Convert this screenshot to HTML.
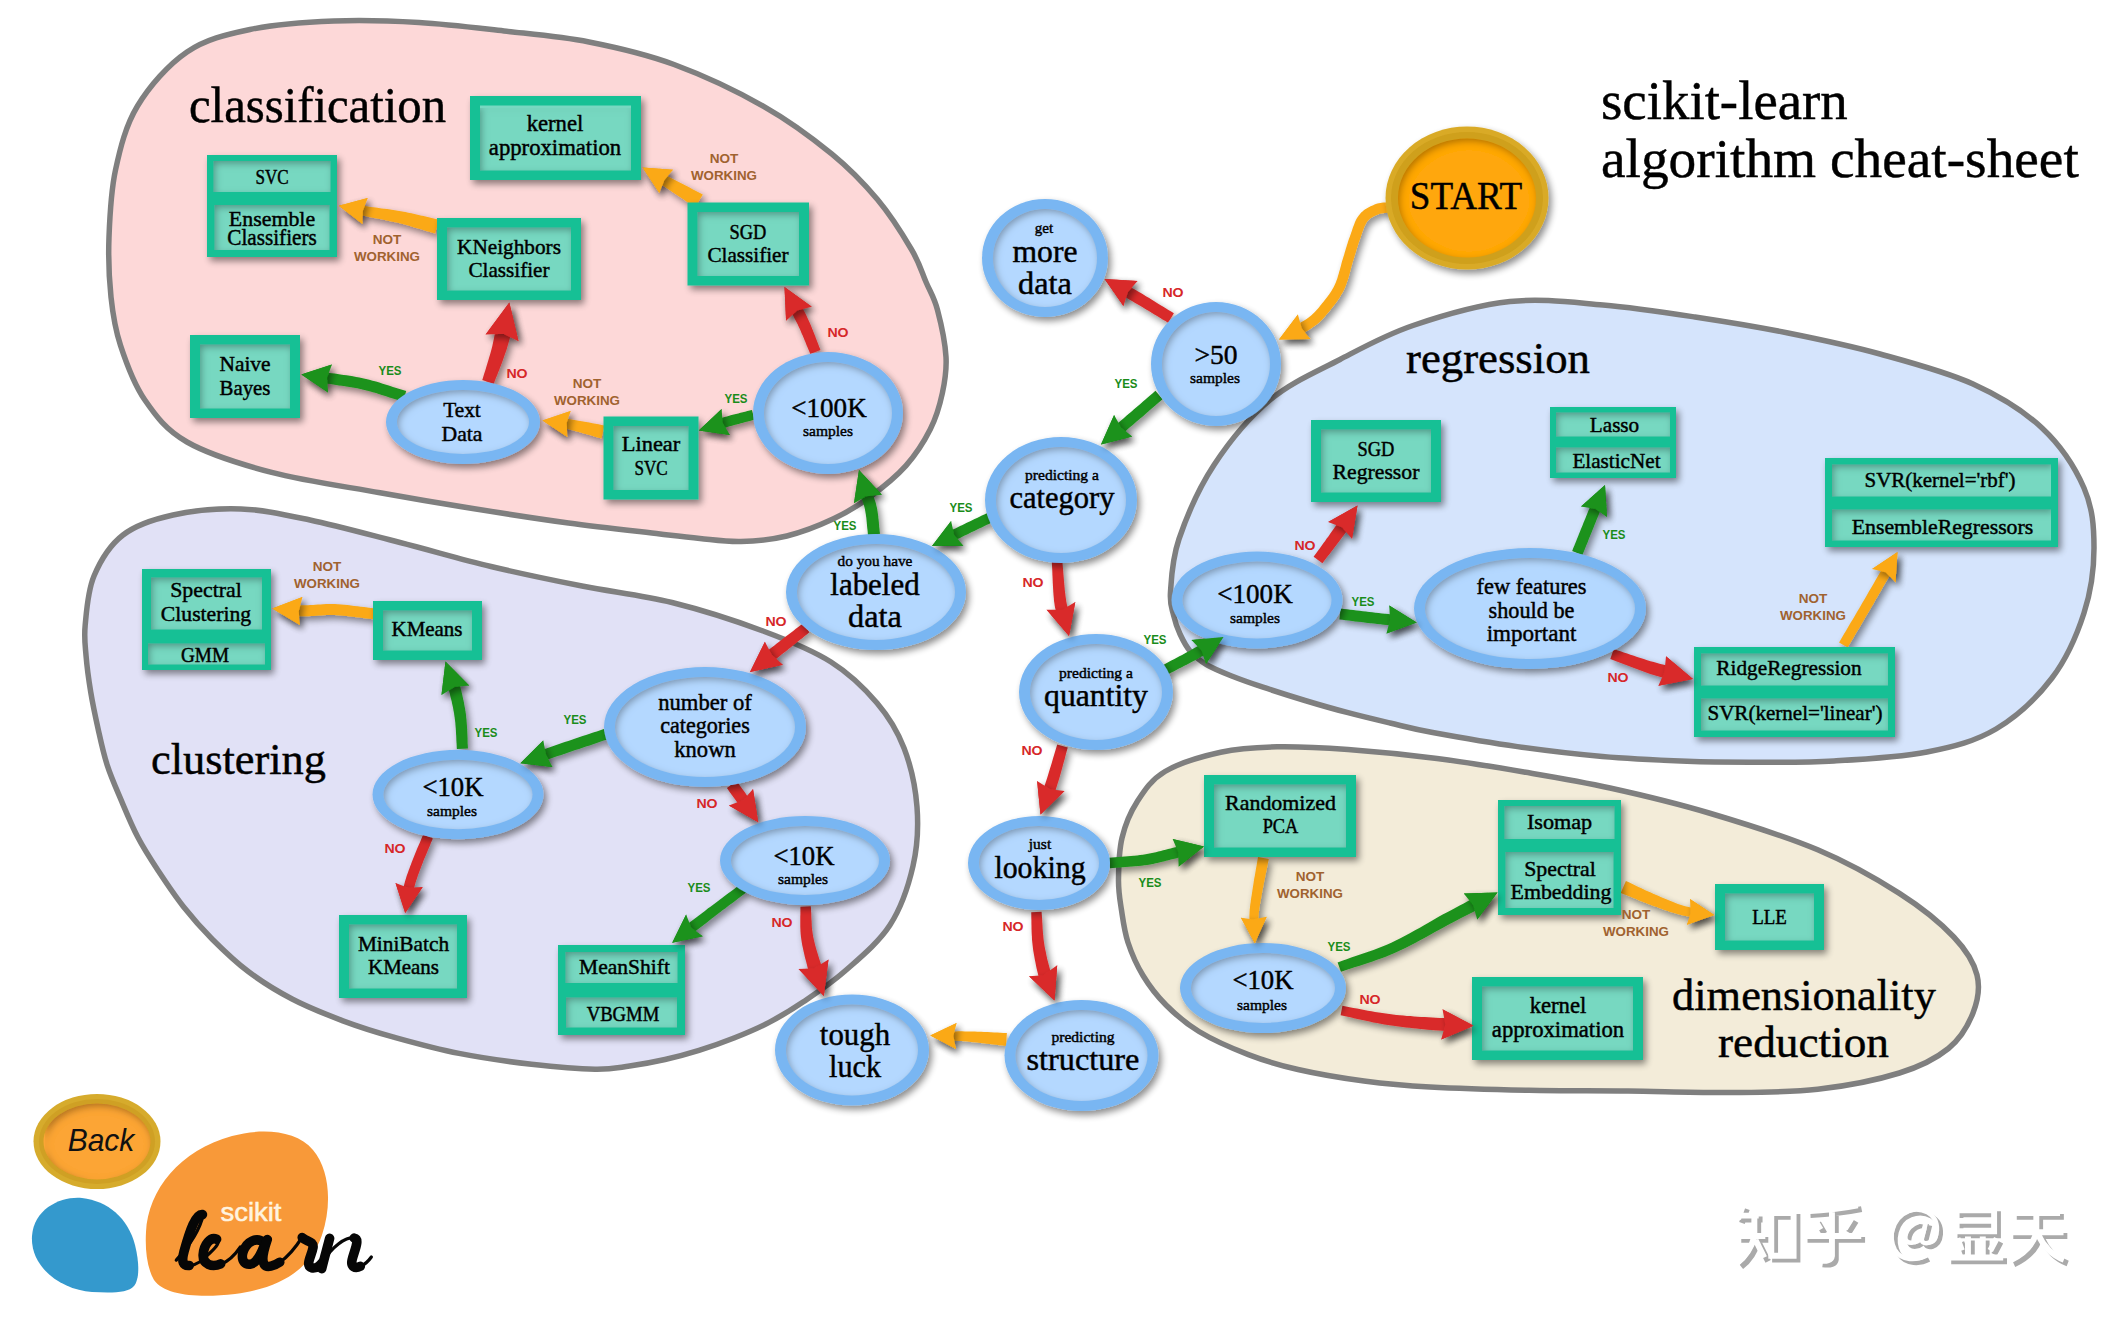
<!DOCTYPE html><html><head><meta charset="utf-8"><title>scikit-learn algorithm cheat-sheet</title>
<style>html,body{margin:0;padding:0;background:#fff}svg{display:block}text{font-family:"Liberation Serif", serif}.s{font-family:"Liberation Sans", sans-serif;font-weight:bold}.sn{font-family:"Liberation Sans", sans-serif}</style></head><body>
<svg width="2122" height="1323" viewBox="0 0 2122 1323">
<defs>
<filter id="ds" x="-5%" y="-5%" width="110%" height="110%"><feGaussianBlur in="SourceAlpha" stdDeviation="3.5"/><feOffset dx="2.5" dy="3.5"/><feComponentTransfer><feFuncA type="linear" slope="0.45"/></feComponentTransfer><feMerge><feMergeNode/><feMergeNode in="SourceGraphic"/></feMerge></filter>
<filter id="is" x="0" y="0" width="100%" height="100%"><feComponentTransfer in="SourceAlpha"><feFuncA type="table" tableValues="1 0"/></feComponentTransfer><feGaussianBlur stdDeviation="3.5"/><feOffset dx="2" dy="3" result="sh"/><feFlood flood-color="#000" flood-opacity="0.55"/><feComposite in2="sh" operator="in"/><feComposite in2="SourceAlpha" operator="in" result="inn"/><feMerge><feMergeNode in="SourceGraphic"/><feMergeNode in="inn"/></feMerge></filter>
</defs>
<rect width="2122" height="1323" fill="#fff"/>
<g stroke="#7f7f7f" stroke-width="5.5">
<path d="M109.0 237.0 C109.8 215.8 110.8 191.8 115.5 170.0 C120.2 148.2 125.6 125.7 137.5 106.0 C149.4 86.3 168.2 64.8 187.0 52.0 C205.8 39.2 225.5 34.7 250.0 29.5 C274.5 24.3 305.8 22.2 334.0 21.0 C362.2 19.8 390.7 20.8 419.0 22.5 C447.3 24.2 475.7 27.8 504.0 31.0 C532.3 34.2 560.7 36.4 589.0 42.0 C617.3 47.6 644.8 53.7 674.0 64.5 C703.2 75.3 737.7 91.6 764.0 106.6 C790.3 121.5 813.1 138.7 832.0 154.2 C850.9 169.7 864.2 183.7 877.5 199.6 C890.8 215.5 903.4 235.8 911.5 249.5 C919.6 263.2 921.7 271.9 926.0 282.0 C930.3 292.1 934.2 297.5 937.5 310.0 C940.8 322.5 945.2 343.2 946.0 357.0 C946.8 370.8 945.0 380.9 942.4 393.0 C939.8 405.1 936.4 417.2 930.3 429.3 C924.2 441.4 916.1 454.3 906.0 465.6 C895.9 476.9 881.9 488.1 869.8 497.0 C857.7 505.9 847.3 512.3 833.5 518.8 C819.7 525.3 802.2 532.2 786.8 536.0 C771.4 539.8 755.5 541.1 741.0 541.5 C726.5 541.9 713.5 539.8 700.0 538.5 C686.5 537.2 681.9 536.6 660.0 534.0 C638.1 531.4 599.5 527.2 568.5 523.0 C537.5 518.8 505.7 513.8 474.3 508.8 C442.9 503.8 413.8 498.9 380.0 492.8 C346.2 486.7 303.9 480.9 271.7 472.4 C239.5 463.9 208.2 454.1 187.0 442.0 C165.8 429.9 155.8 415.9 144.7 399.8 C133.6 383.7 126.1 362.5 120.5 345.4 C114.9 328.3 112.9 315.1 111.0 297.0 C109.1 278.9 108.2 258.2 109.0 237.0Z" fill="#fdd8d8"/>
<path d="M85.2 625.0 C86.5 611.6 87.7 591.0 94.0 576.0 C100.3 561.0 109.8 545.2 123.0 535.0 C136.2 524.8 153.3 519.3 173.0 515.0 C192.7 510.7 218.2 508.2 241.0 509.0 C263.8 509.8 283.5 514.4 310.0 520.0 C336.5 525.6 369.8 534.8 400.0 542.5 C430.2 550.2 460.7 559.2 491.0 566.5 C521.3 573.8 551.8 580.0 582.0 586.0 C612.2 592.0 641.8 595.0 672.0 602.5 C702.2 610.0 736.5 621.1 763.0 631.0 C789.5 640.9 812.0 650.0 831.0 662.0 C850.0 674.0 864.8 688.7 877.0 703.0 C889.2 717.3 897.3 730.7 904.0 748.0 C910.7 765.3 915.5 787.3 917.0 807.0 C918.5 826.7 917.5 846.3 913.0 866.0 C908.5 885.7 901.3 907.5 890.0 925.0 C878.7 942.5 859.5 958.2 845.0 971.0 C830.5 983.8 815.7 993.4 803.0 1002.0 C790.3 1010.6 780.2 1016.6 768.7 1022.6 C757.2 1028.6 745.6 1033.4 734.0 1038.0 C722.4 1042.6 710.5 1046.8 699.0 1050.4 C687.5 1054.0 676.6 1056.9 665.0 1059.5 C653.4 1062.1 641.3 1064.4 629.6 1066.0 C617.9 1067.6 611.4 1069.6 595.0 1069.3 C578.6 1069.0 554.2 1066.9 531.5 1064.3 C508.8 1061.7 482.0 1057.9 459.0 1053.4 C436.0 1048.9 413.1 1042.5 393.7 1037.1 C374.3 1031.7 359.8 1027.1 342.9 1020.8 C326.0 1014.4 307.8 1007.2 292.1 999.0 C276.4 990.8 261.9 981.8 248.6 971.8 C235.3 961.8 223.2 950.1 212.3 939.2 C201.4 928.3 192.4 918.0 183.3 906.5 C174.2 895.0 165.5 881.8 157.9 870.3 C150.3 858.8 144.0 849.1 138.0 837.6 C132.0 826.1 126.8 813.5 121.7 801.4 C116.6 789.3 111.1 777.2 107.2 765.1 C103.3 753.0 100.8 740.9 98.1 728.8 C95.4 716.7 92.8 704.6 90.8 692.5 C88.8 680.4 87.0 667.5 86.1 656.3 C85.2 645.0 83.9 638.4 85.2 625.0Z" fill="#e1e1f6"/>
<path d="M1170.5 592.0 C1171.4 579.3 1171.8 560.2 1179.0 539.0 C1186.2 517.8 1198.8 488.2 1214.0 465.0 C1229.2 441.8 1249.0 417.6 1270.0 400.0 C1291.0 382.4 1316.2 371.9 1340.0 359.5 C1363.8 347.1 1384.7 335.2 1413.0 325.5 C1441.3 315.8 1478.3 304.9 1510.0 301.5 C1541.7 298.1 1572.2 302.4 1603.0 305.0 C1633.8 307.6 1664.2 312.3 1695.0 317.0 C1725.8 321.7 1757.2 326.8 1788.0 333.0 C1818.8 339.2 1849.2 345.5 1880.0 354.0 C1910.8 362.5 1946.0 371.7 1973.0 384.0 C2000.0 396.3 2023.5 410.7 2042.0 428.0 C2060.5 445.3 2075.3 468.0 2084.0 488.0 C2092.7 508.0 2094.0 527.2 2094.0 548.0 C2094.0 568.8 2091.0 591.3 2084.0 613.0 C2077.0 634.7 2066.7 658.7 2052.0 678.0 C2037.3 697.3 2016.8 716.7 1996.0 729.0 C1975.2 741.3 1954.0 746.7 1927.0 752.0 C1900.0 757.3 1863.5 759.3 1834.0 761.0 C1804.5 762.7 1774.5 762.2 1750.0 762.2 C1725.5 762.2 1711.6 762.2 1687.0 761.3 C1662.4 760.3 1630.7 759.0 1602.4 756.5 C1574.2 754.0 1545.8 750.6 1517.5 746.6 C1489.2 742.6 1454.0 736.4 1432.7 732.5 C1411.5 728.6 1404.1 726.3 1390.0 723.0 C1375.9 719.7 1362.2 716.5 1348.0 712.7 C1333.8 709.0 1319.2 704.8 1305.0 700.5 C1290.8 696.2 1275.0 691.2 1263.0 687.2 C1251.0 683.2 1242.4 680.3 1233.0 676.5 C1223.6 672.7 1213.7 668.9 1206.5 664.6 C1199.3 660.4 1194.4 656.1 1190.0 651.0 C1185.6 645.9 1182.8 640.0 1180.0 634.0 C1177.2 628.0 1175.1 622.0 1173.5 615.0 C1171.9 608.0 1169.6 604.7 1170.5 592.0Z" fill="#d5e4fc"/>
<path d="M1118.5 880.0 C1118.6 868.1 1118.9 851.0 1122.0 838.0 C1125.1 825.0 1129.8 813.1 1137.0 802.0 C1144.2 790.9 1151.0 779.8 1165.0 771.5 C1179.0 763.2 1202.0 756.3 1220.7 752.2 C1239.4 748.1 1255.8 747.2 1277.0 746.8 C1298.2 746.4 1321.3 747.6 1348.0 749.6 C1374.7 751.6 1407.7 754.8 1437.0 758.5 C1466.3 762.2 1495.2 767.1 1524.0 772.0 C1552.8 776.9 1579.2 781.2 1610.0 788.0 C1640.8 794.8 1674.4 802.7 1709.0 813.0 C1743.6 823.3 1786.0 836.4 1817.7 849.8 C1849.4 863.2 1876.7 878.9 1899.4 893.4 C1922.1 907.9 1940.9 923.4 1953.8 937.0 C1966.7 950.6 1973.8 962.3 1977.0 975.0 C1980.2 987.7 1977.8 1000.8 1973.0 1013.0 C1968.2 1025.2 1960.7 1038.5 1948.4 1048.5 C1936.1 1058.5 1921.2 1066.2 1899.4 1073.0 C1877.6 1079.8 1846.4 1086.0 1817.7 1089.3 C1789.0 1092.5 1758.6 1092.2 1727.0 1092.5 C1695.4 1092.8 1661.0 1091.4 1628.0 1091.0 C1595.0 1090.6 1562.0 1091.0 1529.0 1090.3 C1496.0 1089.6 1457.5 1088.5 1430.0 1087.0 C1402.5 1085.5 1386.0 1083.9 1364.0 1081.0 C1342.0 1078.1 1317.3 1073.9 1298.0 1069.5 C1278.7 1065.1 1264.9 1060.9 1248.4 1054.6 C1231.9 1048.3 1212.7 1039.8 1199.0 1031.5 C1185.3 1023.2 1175.3 1014.3 1166.0 1005.0 C1156.7 995.7 1149.3 985.9 1143.0 975.5 C1136.7 965.1 1131.6 953.5 1128.0 942.5 C1124.4 931.5 1123.0 919.9 1121.4 909.5 C1119.8 899.1 1118.4 891.9 1118.5 880.0Z" fill="#f3ecd9"/>
</g>
<g filter="url(#ds)" stroke-linejoin="round">
<path d="M1391.8 212.2 L1390.5 212.4 L1389.2 212.6 L1387.9 212.7 L1386.6 212.8 L1385.4 212.9 L1384.2 213.1 L1383.1 213.2 L1382.1 213.4 L1381.1 213.5 L1380.1 213.8 L1379.2 214.0 L1378.3 214.4 L1377.3 214.8 L1376.2 215.3 L1375.1 215.8 L1374.0 216.3 L1373.0 216.8 L1372.0 217.4 L1371.1 218.0 L1370.2 218.6 L1369.4 219.3 L1368.6 220.0 L1367.9 220.8 L1367.2 221.6 L1366.6 222.6 L1365.9 223.7 L1365.3 224.9 L1364.6 226.3 L1364.0 227.8 L1363.4 229.4 L1362.8 231.1 L1362.2 232.8 L1361.6 234.6 L1361.0 236.4 L1360.4 238.2 L1359.7 240.0 L1359.1 241.6 L1358.6 243.3 L1358.0 245.0 L1357.5 246.7 L1357.0 248.4 L1356.4 250.1 L1355.9 251.9 L1355.3 253.7 L1354.8 255.5 L1354.2 257.4 L1353.6 259.4 L1353.0 261.3 L1352.4 263.3 L1351.8 265.4 L1351.2 267.6 L1350.6 269.9 L1350.0 272.2 L1349.4 274.6 L1348.7 277.0 L1348.0 279.4 L1347.2 281.8 L1346.4 284.1 L1345.5 286.4 L1344.6 288.6 L1343.6 290.7 L1342.5 292.7 L1341.4 294.6 L1340.3 296.4 L1339.2 298.3 L1338.0 300.0 L1336.8 301.7 L1335.6 303.4 L1334.3 305.0 L1333.1 306.6 L1331.8 308.2 L1330.6 309.7 L1329.4 311.2 L1328.2 312.7 L1327.0 314.1 L1325.7 315.6 L1324.5 317.1 L1323.1 318.5 L1321.7 320.0 L1320.2 321.4 L1318.6 322.9 L1316.8 324.4 L1314.9 325.8 L1312.9 327.3 L1310.7 328.8 L1308.3 330.3 L1305.8 331.7 L1303.1 333.2 L1310.4 339.0 L1279.0 339.6 L1297.9 314.5 L1298.2 323.9 L1300.6 322.6 L1302.9 321.3 L1305.0 320.0 L1306.9 318.7 L1308.6 317.4 L1310.2 316.2 L1311.7 315.0 L1313.0 313.8 L1314.3 312.5 L1315.5 311.3 L1316.6 310.1 L1317.8 308.8 L1318.9 307.4 L1320.0 306.0 L1321.2 304.6 L1322.4 303.1 L1323.7 301.6 L1324.8 300.1 L1326.0 298.6 L1327.2 297.1 L1328.3 295.6 L1329.4 294.0 L1330.4 292.5 L1331.4 290.9 L1332.4 289.3 L1333.3 287.7 L1334.2 286.0 L1335.0 284.2 L1335.8 282.4 L1336.5 280.5 L1337.3 278.4 L1337.9 276.3 L1338.6 274.1 L1339.2 271.8 L1339.9 269.5 L1340.5 267.2 L1341.1 264.9 L1341.7 262.6 L1342.3 260.4 L1343.0 258.3 L1343.6 256.3 L1344.2 254.4 L1344.7 252.5 L1345.3 250.7 L1345.8 248.8 L1346.4 247.0 L1346.9 245.3 L1347.5 243.5 L1348.0 241.7 L1348.6 240.0 L1349.2 238.2 L1349.9 236.4 L1350.5 234.7 L1351.1 233.0 L1351.7 231.2 L1352.3 229.4 L1352.9 227.6 L1353.6 225.7 L1354.3 223.9 L1355.0 222.1 L1355.8 220.3 L1356.7 218.6 L1357.7 216.9 L1358.8 215.4 L1360.0 213.9 L1361.2 212.6 L1362.5 211.4 L1363.8 210.3 L1365.2 209.3 L1366.6 208.4 L1367.9 207.7 L1369.3 206.9 L1370.6 206.3 L1371.9 205.7 L1373.2 205.2 L1374.5 204.6 L1375.9 204.1 L1377.4 203.6 L1378.9 203.3 L1380.3 203.0 L1381.7 202.8 L1383.0 202.6 L1384.3 202.5 L1385.6 202.4 L1386.8 202.2 L1387.9 202.1 L1389.1 202.0 L1390.2 201.8Z" fill="#fba916"/>
<path d="M1168.1 322.7 L1165.4 321.0 L1162.6 319.4 L1159.9 317.7 L1157.1 316.0 L1154.4 314.4 L1151.6 312.7 L1148.9 311.1 L1146.1 309.4 L1143.4 307.8 L1140.6 306.1 L1137.9 304.5 L1135.1 302.9 L1132.4 301.3 L1129.6 299.7 L1126.8 298.1 L1124.1 296.6 L1123.4 306.1 L1104.6 279.0 L1137.5 281.1 L1129.7 286.6 L1132.5 288.2 L1135.3 289.8 L1138.1 291.5 L1140.9 293.1 L1143.7 294.8 L1146.4 296.4 L1149.2 298.1 L1151.9 299.8 L1154.7 301.5 L1157.4 303.2 L1160.2 304.9 L1162.9 306.6 L1165.7 308.2 L1168.4 309.9 L1171.1 311.6 L1173.9 313.3Z" fill="#d92b2b"/>
<path d="M1162.6 399.2 L1160.2 401.2 L1157.8 403.3 L1155.3 405.4 L1152.9 407.5 L1150.5 409.6 L1148.1 411.7 L1145.7 413.8 L1143.3 415.9 L1140.8 418.0 L1138.4 420.0 L1136.0 422.1 L1133.6 424.2 L1131.1 426.2 L1128.7 428.3 L1126.3 430.4 L1123.9 432.4 L1132.2 436.6 L1101.0 444.5 L1114.1 415.1 L1116.8 424.0 L1119.2 422.0 L1121.6 419.9 L1124.0 417.9 L1126.4 415.8 L1128.8 413.8 L1131.3 411.7 L1133.7 409.6 L1136.1 407.5 L1138.5 405.5 L1140.9 403.4 L1143.3 401.3 L1145.7 399.2 L1148.2 397.1 L1150.6 395.0 L1153.0 392.9 L1155.4 390.8Z" fill="#1b921b"/>
<path d="M991.3 522.7 L988.9 523.9 L986.4 525.1 L984.0 526.2 L981.6 527.4 L979.1 528.6 L976.7 529.7 L974.3 530.9 L971.9 532.1 L969.5 533.2 L967.1 534.4 L964.7 535.6 L962.3 536.7 L960.0 537.9 L957.6 539.0 L955.3 540.2 L963.4 545.7 L932.0 546.0 L951.1 521.0 L950.6 530.8 L952.9 529.6 L955.3 528.5 L957.7 527.3 L960.1 526.1 L962.5 524.9 L964.9 523.8 L967.3 522.6 L969.7 521.4 L972.2 520.3 L974.6 519.1 L977.0 517.9 L979.5 516.8 L981.9 515.6 L984.3 514.4 L986.7 513.3Z" fill="#1b921b"/>
<path d="M1062.2 559.6 L1062.5 563.0 L1062.8 566.5 L1063.1 570.1 L1063.4 573.7 L1063.7 577.3 L1064.0 580.9 L1064.3 584.4 L1064.6 587.7 L1064.9 590.9 L1065.3 593.9 L1065.6 596.7 L1066.0 599.2 L1066.3 601.4 L1066.7 603.4 L1067.1 605.2 L1067.6 606.8 L1068.0 608.3 L1068.4 609.7 L1075.3 602.1 L1069.0 636.0 L1046.6 609.8 L1056.5 613.3 L1056.0 611.6 L1055.6 609.8 L1055.1 607.8 L1054.7 605.7 L1054.4 603.3 L1054.0 600.8 L1053.8 598.0 L1053.5 595.1 L1053.3 591.9 L1053.1 588.6 L1052.9 585.1 L1052.7 581.6 L1052.6 578.0 L1052.4 574.4 L1052.3 570.8 L1052.1 567.2 L1051.9 563.8 L1051.8 560.4Z" fill="#d92b2b"/>
<path d="M1160.5 666.4 L1163.2 664.9 L1165.9 663.5 L1168.6 662.1 L1171.3 660.6 L1174.0 659.2 L1176.7 657.8 L1179.4 656.3 L1182.1 654.9 L1184.7 653.5 L1187.3 652.1 L1189.8 650.7 L1192.3 649.3 L1194.8 647.8 L1197.2 646.4 L1199.6 645.0 L1191.5 639.9 L1223.5 637.0 L1206.0 664.0 L1205.2 654.5 L1202.7 655.9 L1200.2 657.3 L1197.7 658.7 L1195.1 660.2 L1192.5 661.6 L1189.8 663.0 L1187.1 664.4 L1184.4 665.8 L1181.7 667.2 L1179.0 668.6 L1176.3 670.0 L1173.5 671.4 L1170.8 672.8 L1168.1 674.2 L1165.5 675.6Z" fill="#1b921b"/>
<path d="M1067.8 747.5 L1066.9 750.5 L1066.1 753.6 L1065.3 756.6 L1064.5 759.7 L1063.6 762.7 L1062.8 765.8 L1062.0 768.8 L1061.1 771.9 L1060.3 774.9 L1059.4 777.9 L1058.5 780.9 L1057.6 783.8 L1056.7 786.7 L1055.8 789.5 L1054.9 792.3 L1064.5 790.9 L1040.5 814.5 L1037.1 781.0 L1043.5 788.4 L1044.5 785.7 L1045.5 783.0 L1046.4 780.2 L1047.3 777.4 L1048.2 774.5 L1049.1 771.6 L1050.0 768.6 L1050.9 765.7 L1051.8 762.7 L1052.7 759.6 L1053.6 756.6 L1054.5 753.6 L1055.4 750.5 L1056.3 747.5 L1057.2 744.5Z" fill="#d92b2b"/>
<path d="M1109.0 857.8 L1112.2 857.5 L1115.3 857.2 L1118.5 857.0 L1121.7 856.7 L1124.8 856.5 L1127.9 856.2 L1131.0 856.0 L1134.1 855.7 L1137.1 855.4 L1140.0 855.1 L1142.8 854.7 L1145.6 854.3 L1148.2 853.8 L1150.8 853.3 L1153.3 852.8 L1155.9 852.2 L1158.3 851.6 L1160.8 851.0 L1163.2 850.3 L1165.7 849.7 L1168.1 849.0 L1170.6 848.4 L1173.0 847.7 L1175.5 847.2 L1177.9 846.6 L1172.7 839.0 L1204.0 846.5 L1178.7 866.4 L1180.3 857.3 L1177.9 857.8 L1175.6 858.4 L1173.2 859.0 L1170.9 859.6 L1168.5 860.2 L1166.0 860.8 L1163.5 861.5 L1161.0 862.1 L1158.3 862.7 L1155.7 863.3 L1152.9 863.9 L1150.1 864.4 L1147.2 864.9 L1144.3 865.3 L1141.3 865.7 L1138.2 866.0 L1135.1 866.3 L1131.9 866.6 L1128.8 866.8 L1125.6 867.1 L1122.4 867.3 L1119.3 867.5 L1116.1 867.7 L1113.0 868.0 L1110.0 868.2Z" fill="#1b921b"/>
<path d="M1041.6 911.7 L1041.8 914.4 L1042.0 917.2 L1042.2 919.9 L1042.3 922.6 L1042.5 925.3 L1042.6 928.0 L1042.8 930.6 L1043.0 933.3 L1043.3 935.9 L1043.5 938.5 L1043.8 941.0 L1044.2 943.6 L1044.6 946.2 L1045.1 948.9 L1045.7 951.6 L1046.2 954.3 L1046.8 957.0 L1047.4 959.7 L1048.1 962.3 L1048.8 964.9 L1049.5 967.5 L1050.1 970.0 L1050.8 972.4 L1051.5 974.7 L1057.2 965.3 L1054.5 1000.5 L1029.0 976.2 L1039.1 978.3 L1038.4 975.8 L1037.8 973.3 L1037.1 970.6 L1036.5 967.9 L1035.9 965.1 L1035.4 962.3 L1034.8 959.4 L1034.3 956.6 L1033.8 953.7 L1033.3 950.9 L1032.9 948.0 L1032.6 945.2 L1032.3 942.4 L1032.0 939.6 L1031.9 936.8 L1031.7 934.0 L1031.6 931.2 L1031.5 928.5 L1031.5 925.7 L1031.4 923.0 L1031.4 920.3 L1031.3 917.6 L1031.3 915.0 L1031.2 912.3Z" fill="#d92b2b"/>
<path d="M1005.9 1046.0 L1002.7 1045.6 L999.5 1045.2 L996.3 1044.8 L993.1 1044.4 L989.9 1044.0 L986.7 1043.7 L983.5 1043.3 L980.3 1042.9 L977.2 1042.5 L974.0 1042.2 L970.9 1041.9 L967.7 1041.6 L964.6 1041.3 L961.5 1041.1 L958.4 1040.9 L955.3 1040.7 L952.1 1040.5 L956.1 1049.0 L930.3 1035.5 L956.6 1023.1 L952.3 1031.4 L955.5 1031.4 L958.7 1031.3 L961.9 1031.3 L965.1 1031.4 L968.3 1031.4 L971.5 1031.5 L974.7 1031.6 L977.9 1031.7 L981.2 1031.8 L984.4 1031.9 L987.6 1032.1 L990.9 1032.3 L994.1 1032.4 L997.3 1032.6 L1000.5 1032.7 L1003.7 1032.9 L1006.9 1033.0Z" fill="#fba916"/>
<path d="M868.0 535.2 L867.8 533.0 L867.6 530.8 L867.3 528.5 L867.1 526.3 L866.9 524.1 L866.7 521.9 L866.5 519.8 L866.3 517.7 L866.0 515.7 L865.7 513.8 L865.4 511.9 L865.1 510.2 L864.8 508.6 L864.4 507.0 L864.0 505.5 L863.5 504.0 L863.0 502.6 L862.5 501.1 L862.0 499.7 L861.5 498.2 L860.9 496.7 L854.0 503.3 L859.0 470.0 L881.9 494.8 L872.2 492.7 L872.8 494.1 L873.3 495.6 L873.8 497.2 L874.4 498.8 L874.9 500.4 L875.5 502.1 L876.0 503.9 L876.4 505.8 L876.9 507.8 L877.3 509.9 L877.6 512.0 L877.9 514.1 L878.2 516.3 L878.4 518.5 L878.7 520.7 L878.9 523.0 L879.1 525.2 L879.3 527.4 L879.5 529.6 L879.7 531.7 L880.0 533.8Z" fill="#1b921b"/>
<path d="M809.4 632.3 L807.1 634.2 L804.8 636.0 L802.5 637.9 L800.1 639.8 L797.8 641.6 L795.5 643.5 L793.2 645.3 L790.9 647.2 L788.6 649.0 L786.3 650.9 L783.9 652.8 L781.6 654.6 L779.3 656.5 L777.0 658.3 L774.7 660.2 L782.9 664.7 L750.0 672.0 L764.9 641.7 L767.3 650.8 L769.7 649.0 L772.0 647.2 L774.4 645.4 L776.7 643.6 L779.1 641.8 L781.4 640.0 L783.8 638.1 L786.1 636.3 L788.5 634.5 L790.8 632.7 L793.2 630.9 L795.5 629.1 L797.9 627.3 L800.2 625.5 L802.6 623.7Z" fill="#d92b2b"/>
<path d="M810.3 354.1 L809.4 351.8 L808.4 349.5 L807.5 347.2 L806.5 344.9 L805.6 342.6 L804.6 340.3 L803.7 338.0 L802.8 335.8 L801.8 333.7 L800.9 331.6 L800.1 329.6 L799.2 327.7 L798.4 325.9 L797.5 324.1 L796.7 322.5 L795.9 320.9 L795.1 319.4 L794.3 317.9 L793.6 316.4 L792.8 314.9 L792.0 313.4 L791.1 311.9 L786.1 320.7 L784.5 287.0 L811.8 306.8 L801.7 306.3 L802.5 307.8 L803.3 309.4 L804.1 310.9 L804.9 312.5 L805.7 314.1 L806.5 315.7 L807.3 317.4 L808.1 319.2 L808.9 321.0 L809.8 322.9 L810.7 325.0 L811.5 327.1 L812.4 329.3 L813.3 331.5 L814.2 333.8 L815.1 336.1 L816.0 338.4 L816.9 340.8 L817.8 343.1 L818.7 345.4 L819.6 347.7 L820.5 349.9Z" fill="#d92b2b"/>
<path d="M754.5 419.6 L752.2 420.2 L749.9 420.9 L747.7 421.5 L745.4 422.1 L743.1 422.7 L740.9 423.3 L738.6 423.9 L736.4 424.5 L734.1 425.1 L731.9 425.7 L729.7 426.3 L727.4 427.0 L725.2 427.7 L723.0 428.4 L729.9 435.1 L698.8 430.5 L721.6 408.9 L719.9 418.3 L722.3 417.7 L724.6 417.0 L726.9 416.4 L729.2 415.7 L731.5 415.1 L733.8 414.5 L736.0 414.0 L738.3 413.4 L740.6 412.8 L742.9 412.2 L745.1 411.7 L747.4 411.1 L749.7 410.5 L751.9 410.0Z" fill="#1b921b"/>
<path d="M695.2 207.4 L692.9 205.9 L690.6 204.3 L688.3 202.8 L686.0 201.2 L683.7 199.6 L681.4 198.1 L679.1 196.5 L676.8 195.0 L674.5 193.4 L672.2 191.9 L669.9 190.3 L667.6 188.8 L665.4 187.3 L663.1 185.8 L660.9 184.3 L659.4 193.1 L642.5 167.5 L673.0 169.8 L666.1 175.4 L668.5 176.7 L670.9 177.9 L673.4 179.2 L675.8 180.4 L678.2 181.7 L680.7 183.0 L683.2 184.3 L685.6 185.6 L688.1 186.8 L690.5 188.1 L693.0 189.4 L695.5 190.7 L697.9 192.0 L700.4 193.3 L702.8 194.6Z" fill="#fba916"/>
<path d="M601.5 438.6 L598.6 437.7 L595.6 436.9 L592.6 436.0 L589.6 435.1 L586.5 434.3 L583.6 433.4 L580.6 432.5 L577.7 431.7 L574.9 430.9 L572.2 430.2 L569.6 429.5 L567.1 428.9 L564.7 428.3 L567.4 437.1 L542.5 420.6 L570.7 410.9 L566.4 418.8 L568.9 419.1 L571.6 419.5 L574.4 419.9 L577.2 420.4 L580.2 420.9 L583.2 421.5 L586.2 422.0 L589.3 422.6 L592.4 423.2 L595.5 423.8 L598.5 424.3 L601.6 424.9 L604.5 425.4Z" fill="#fba916"/>
<path d="M482.3 380.1 L483.2 377.0 L484.1 374.0 L485.1 371.0 L486.0 368.0 L486.9 365.0 L487.8 362.0 L488.7 359.1 L489.6 356.1 L490.5 353.0 L491.3 350.0 L492.1 346.9 L492.8 343.7 L493.5 340.4 L494.2 337.0 L494.9 333.6 L495.5 330.0 L485.6 334.6 L509.3 302.5 L518.5 341.3 L511.1 333.4 L510.2 337.0 L509.2 340.6 L508.2 344.1 L507.2 347.5 L506.1 350.9 L505.0 354.1 L503.9 357.3 L502.8 360.4 L501.7 363.4 L500.5 366.4 L499.4 369.4 L498.2 372.3 L497.1 375.2 L495.9 378.1 L494.8 381.0 L493.7 383.9Z" fill="#d92b2b"/>
<path d="M403.0 401.7 L399.6 400.6 L396.2 399.6 L392.9 398.5 L389.5 397.4 L386.1 396.3 L382.8 395.2 L379.4 394.2 L376.1 393.1 L372.9 392.2 L369.7 391.3 L366.5 390.4 L363.4 389.7 L360.4 389.0 L357.3 388.3 L354.2 387.7 L351.1 387.2 L348.0 386.7 L344.9 386.2 L341.9 385.8 L338.9 385.4 L336.0 384.9 L333.1 384.5 L330.3 384.1 L327.6 383.7 L325.0 383.4 L328.1 392.4 L301.3 374.6 L331.9 364.6 L326.6 372.5 L329.2 372.9 L331.9 373.3 L334.6 373.6 L337.5 374.0 L340.4 374.5 L343.5 374.9 L346.6 375.3 L349.7 375.8 L352.9 376.3 L356.1 376.9 L359.4 377.5 L362.7 378.2 L366.0 378.9 L369.3 379.8 L372.6 380.7 L376.0 381.6 L379.3 382.6 L382.7 383.7 L386.1 384.7 L389.5 385.8 L392.9 386.9 L396.2 388.0 L399.6 389.1 L402.9 390.1 L406.2 391.1Z" fill="#1b921b"/>
<path d="M435.2 233.6 L432.2 232.7 L429.2 231.8 L426.2 230.9 L423.2 230.0 L420.2 229.1 L417.2 228.2 L414.2 227.4 L411.3 226.5 L408.3 225.6 L405.4 224.8 L402.6 224.1 L399.7 223.3 L396.9 222.6 L394.0 222.0 L391.2 221.4 L388.3 220.8 L385.5 220.2 L382.6 219.6 L379.8 219.1 L377.0 218.5 L374.2 218.0 L371.4 217.4 L368.7 216.9 L366.1 216.3 L363.5 215.7 L361.1 215.2 L362.5 224.0 L338.8 205.8 L367.7 198.1 L362.9 205.7 L365.4 206.1 L367.9 206.5 L370.5 206.9 L373.2 207.3 L375.9 207.6 L378.7 208.0 L381.5 208.4 L384.4 208.7 L387.3 209.1 L390.3 209.5 L393.3 210.0 L396.3 210.4 L399.3 210.9 L402.3 211.5 L405.3 212.0 L408.3 212.7 L411.4 213.3 L414.4 214.0 L417.5 214.7 L420.6 215.4 L423.6 216.1 L426.7 216.8 L429.7 217.5 L432.8 218.2 L435.8 218.9 L438.8 219.6Z" fill="#fba916"/>
<path d="M607.3 739.4 L603.8 740.6 L600.2 741.8 L596.7 743.0 L593.1 744.2 L589.6 745.4 L586.0 746.5 L582.5 747.7 L579.0 748.9 L575.4 750.1 L571.9 751.3 L568.3 752.5 L564.8 753.7 L561.2 754.9 L557.7 756.1 L554.1 757.3 L550.6 758.6 L547.0 759.8 L552.4 767.0 L520.4 763.2 L543.2 740.5 L543.5 749.4 L547.0 748.2 L550.6 746.9 L554.1 745.7 L557.7 744.5 L561.2 743.3 L564.8 742.1 L568.3 740.9 L571.9 739.7 L575.4 738.5 L579.0 737.3 L582.6 736.1 L586.1 734.9 L589.7 733.7 L593.2 732.5 L596.8 731.4 L600.3 730.2 L603.9 729.0Z" fill="#1b921b"/>
<path d="M736.7 781.1 L737.8 782.6 L738.9 784.1 L740.0 785.7 L741.1 787.2 L742.2 788.7 L743.3 790.2 L744.4 791.8 L745.5 793.3 L746.6 794.9 L747.7 796.4 L748.8 798.0 L753.0 788.9 L758.2 822.2 L728.9 805.4 L739.0 804.9 L737.9 803.4 L736.8 801.8 L735.7 800.3 L734.6 798.8 L733.5 797.3 L732.4 795.7 L731.3 794.2 L730.2 792.7 L729.1 791.2 L728.0 789.6 L726.9 788.1Z" fill="#d92b2b"/>
<path d="M456.9 749.0 L456.7 746.3 L456.6 743.6 L456.4 741.0 L456.3 738.3 L456.2 735.6 L456.0 732.9 L455.9 730.3 L455.7 727.7 L455.5 725.2 L455.3 722.6 L455.0 720.2 L454.7 717.7 L454.3 715.3 L454.0 712.9 L453.5 710.5 L453.1 708.1 L452.6 705.7 L452.1 703.4 L451.6 701.0 L451.0 698.7 L450.4 696.4 L449.9 694.1 L449.3 691.8 L448.6 689.6 L448.0 687.4 L441.5 695.1 L445.5 661.6 L469.2 685.6 L459.5 684.0 L460.2 686.4 L460.8 688.8 L461.4 691.2 L461.9 693.6 L462.5 696.0 L463.0 698.5 L463.6 701.0 L464.1 703.4 L464.5 706.0 L465.0 708.5 L465.4 711.1 L465.8 713.6 L466.1 716.3 L466.4 718.9 L466.6 721.6 L466.8 724.3 L467.0 727.0 L467.2 729.7 L467.3 732.4 L467.4 735.1 L467.5 737.8 L467.6 740.5 L467.6 743.1 L467.8 745.8 L467.9 748.4Z" fill="#1b921b"/>
<path d="M432.9 838.5 L431.9 840.8 L430.9 843.1 L430.0 845.4 L429.0 847.8 L428.0 850.1 L427.0 852.4 L426.1 854.7 L425.1 856.9 L424.2 859.1 L423.3 861.3 L422.5 863.5 L421.7 865.6 L420.9 867.6 L420.2 869.6 L419.4 871.6 L418.7 873.5 L418.0 875.3 L417.4 877.2 L416.8 879.0 L416.2 880.8 L415.6 882.6 L415.1 884.4 L414.6 886.3 L414.1 888.2 L413.7 890.1 L422.7 887.0 L405.2 913.0 L395.5 883.1 L403.4 888.0 L403.9 885.8 L404.4 883.7 L405.0 881.6 L405.6 879.6 L406.2 877.6 L406.8 875.6 L407.5 873.7 L408.2 871.8 L408.9 869.8 L409.6 867.9 L410.3 865.9 L411.1 863.9 L411.9 861.8 L412.7 859.7 L413.6 857.5 L414.5 855.2 L415.4 852.9 L416.4 850.6 L417.3 848.3 L418.3 846.0 L419.3 843.7 L420.3 841.4 L421.3 839.0 L422.2 836.8 L423.1 834.5Z" fill="#d92b2b"/>
<path d="M372.8 619.2 L369.5 618.8 L366.2 618.4 L362.9 618.0 L359.6 617.6 L356.2 617.2 L353.0 616.8 L349.7 616.4 L346.5 616.0 L343.4 615.7 L340.3 615.5 L337.3 615.2 L334.5 615.1 L331.7 615.0 L329.1 615.0 L326.5 615.1 L323.9 615.2 L321.3 615.4 L318.8 615.6 L316.2 615.8 L313.6 616.0 L311.0 616.1 L308.3 616.2 L305.6 616.3 L302.9 616.3 L300.2 616.2 L297.5 616.1 L299.9 624.9 L272.3 608.4 L302.4 596.9 L298.1 605.1 L300.6 605.2 L303.1 605.3 L305.5 605.3 L308.0 605.3 L310.4 605.1 L312.9 605.0 L315.4 604.8 L317.9 604.6 L320.6 604.4 L323.3 604.2 L326.1 604.1 L328.9 604.0 L331.9 604.0 L334.9 604.1 L338.0 604.3 L341.2 604.5 L344.4 604.8 L347.7 605.1 L351.0 605.5 L354.3 605.9 L357.6 606.3 L360.9 606.7 L364.2 607.1 L367.5 607.5 L370.8 607.9 L374.0 608.2Z" fill="#fba916"/>
<path d="M746.4 892.3 L743.5 894.5 L740.5 896.8 L737.6 899.0 L734.7 901.2 L731.7 903.4 L728.8 905.6 L725.8 907.9 L722.9 910.1 L720.0 912.3 L717.0 914.6 L714.1 916.8 L711.1 919.1 L708.2 921.4 L705.2 923.7 L702.3 926.0 L699.3 928.3 L696.3 930.6 L693.3 932.9 L702.9 936.3 L672.2 942.7 L686.1 914.5 L686.9 924.6 L689.9 922.3 L692.9 920.0 L695.9 917.7 L698.9 915.4 L701.9 913.2 L704.9 910.9 L707.8 908.6 L710.8 906.4 L713.8 904.2 L716.8 901.9 L719.7 899.7 L722.7 897.5 L725.6 895.3 L728.6 893.1 L731.5 890.9 L734.5 888.7 L737.4 886.5 L740.4 884.3Z" fill="#1b921b"/>
<path d="M810.8 906.3 L811.0 908.8 L811.1 911.3 L811.3 913.8 L811.3 916.3 L811.4 918.8 L811.6 921.2 L811.7 923.6 L811.8 926.0 L812.0 928.4 L812.3 930.7 L812.6 933.1 L813.0 935.4 L813.4 937.8 L814.0 940.2 L814.6 942.7 L815.2 945.2 L815.9 947.7 L816.6 950.3 L817.4 952.8 L818.2 955.4 L819.0 958.0 L819.8 960.5 L820.6 963.0 L821.3 965.5 L822.1 967.9 L828.5 959.4 L823.8 995.9 L798.6 969.0 L808.7 971.8 L808.1 969.3 L807.4 966.8 L806.8 964.2 L806.1 961.6 L805.4 959.0 L804.7 956.3 L804.1 953.6 L803.5 950.9 L802.9 948.1 L802.3 945.4 L801.8 942.6 L801.4 939.9 L801.0 937.2 L800.7 934.5 L800.5 931.8 L800.4 929.2 L800.3 926.5 L800.3 924.0 L800.3 921.4 L800.3 918.9 L800.3 916.5 L800.4 914.0 L800.4 911.6 L800.4 909.2 L800.4 906.7Z" fill="#d92b2b"/>
<path d="M1313.6 556.7 L1315.2 554.5 L1316.9 552.2 L1318.5 549.9 L1320.2 547.7 L1321.8 545.4 L1323.5 543.1 L1325.1 540.9 L1326.7 538.6 L1328.4 536.4 L1330.0 534.1 L1331.6 531.8 L1333.2 529.5 L1334.8 527.3 L1336.4 525.0 L1338.0 522.7 L1328.1 521.9 L1357.5 505.4 L1352.0 538.7 L1347.8 529.6 L1346.1 531.9 L1344.5 534.2 L1342.8 536.5 L1341.1 538.7 L1339.4 541.0 L1337.7 543.2 L1336.0 545.5 L1334.3 547.7 L1332.6 549.9 L1330.9 552.2 L1329.2 554.4 L1327.5 556.6 L1325.8 558.8 L1324.1 561.1 L1322.4 563.3Z" fill="#d92b2b"/>
<path d="M1340.6 608.5 L1343.8 608.9 L1347.0 609.3 L1350.1 609.7 L1353.3 610.1 L1356.5 610.4 L1359.6 610.8 L1362.8 611.2 L1365.9 611.6 L1369.1 611.9 L1372.3 612.3 L1375.4 612.7 L1378.6 613.0 L1381.8 613.4 L1385.0 613.7 L1388.2 614.1 L1391.4 614.4 L1389.3 605.6 L1416.7 622.5 L1386.5 633.5 L1390.3 625.3 L1387.1 625.0 L1383.8 624.7 L1380.6 624.3 L1377.4 624.0 L1374.2 623.6 L1371.0 623.2 L1367.8 622.9 L1364.6 622.5 L1361.5 622.1 L1358.3 621.7 L1355.1 621.4 L1352.0 621.0 L1348.8 620.6 L1345.7 620.2 L1342.5 619.8 L1339.4 619.5Z" fill="#1b921b"/>
<path d="M1572.2 550.9 L1573.3 548.1 L1574.5 545.3 L1575.6 542.5 L1576.8 539.6 L1577.9 536.8 L1579.0 533.9 L1580.2 531.1 L1581.3 528.3 L1582.5 525.4 L1583.6 522.6 L1584.8 519.8 L1585.9 516.9 L1587.1 514.1 L1588.2 511.2 L1589.4 508.4 L1590.6 505.6 L1581.0 506.4 L1605.0 485.0 L1606.9 517.1 L1600.7 509.8 L1599.6 512.6 L1598.4 515.4 L1597.2 518.2 L1596.1 521.1 L1594.9 523.9 L1593.8 526.7 L1592.7 529.6 L1591.5 532.4 L1590.4 535.2 L1589.2 538.1 L1588.1 540.9 L1587.0 543.7 L1585.8 546.5 L1584.7 549.4 L1583.5 552.2 L1582.4 555.1Z" fill="#1b921b"/>
<path d="M1613.7 649.0 L1617.1 650.2 L1620.5 651.3 L1623.8 652.4 L1627.2 653.6 L1630.5 654.7 L1633.9 655.8 L1637.2 656.9 L1640.5 658.0 L1643.8 659.1 L1647.2 660.2 L1650.5 661.2 L1653.8 662.1 L1657.1 663.1 L1660.5 664.0 L1663.9 664.8 L1667.3 665.7 L1666.0 656.3 L1693.0 679.0 L1658.4 685.7 L1663.9 678.1 L1660.5 677.1 L1657.0 676.1 L1653.6 675.0 L1650.2 673.9 L1646.8 672.7 L1643.4 671.5 L1640.0 670.3 L1636.7 669.1 L1633.3 667.8 L1630.0 666.5 L1626.7 665.3 L1623.4 664.0 L1620.1 662.7 L1616.8 661.4 L1613.5 660.2 L1610.3 659.0Z" fill="#d92b2b"/>
<path d="M1839.1 642.5 L1841.4 638.5 L1843.7 634.6 L1846.0 630.7 L1848.3 626.8 L1850.6 622.8 L1853.0 618.9 L1855.3 615.0 L1857.6 611.1 L1859.9 607.2 L1862.1 603.3 L1864.4 599.4 L1866.7 595.5 L1868.9 591.6 L1871.2 587.8 L1873.4 583.9 L1875.6 580.1 L1877.8 576.3 L1880.0 572.4 L1882.2 568.6 L1872.1 569.1 L1897.5 552.0 L1895.5 582.6 L1890.8 573.6 L1888.7 577.4 L1886.5 581.3 L1884.2 585.1 L1882.0 588.9 L1879.8 592.8 L1877.6 596.6 L1875.3 600.5 L1873.1 604.4 L1870.8 608.3 L1868.5 612.2 L1866.2 616.1 L1863.9 620.0 L1861.6 624.0 L1859.3 627.9 L1856.9 631.8 L1854.6 635.8 L1852.3 639.7 L1850.0 643.6 L1847.7 647.5Z" fill="#fba916"/>
<path d="M1268.8 858.9 L1268.2 861.9 L1267.6 864.9 L1267.0 867.9 L1266.4 871.0 L1265.7 874.1 L1265.1 877.2 L1264.5 880.2 L1263.9 883.1 L1263.4 886.0 L1262.8 888.7 L1262.3 891.3 L1261.9 893.8 L1261.5 896.1 L1261.1 898.3 L1260.7 900.3 L1260.4 902.2 L1260.1 904.0 L1259.8 905.7 L1259.5 907.3 L1259.3 909.0 L1259.1 910.7 L1258.9 912.4 L1258.7 914.3 L1258.6 916.2 L1258.5 918.2 L1258.4 920.3 L1266.7 916.8 L1254.8 943.3 L1240.9 917.8 L1249.4 920.3 L1249.4 918.0 L1249.4 915.8 L1249.5 913.7 L1249.6 911.7 L1249.7 909.8 L1249.9 907.9 L1250.1 906.1 L1250.3 904.3 L1250.6 902.5 L1250.8 900.6 L1251.1 898.7 L1251.4 896.7 L1251.8 894.5 L1252.1 892.2 L1252.5 889.7 L1252.9 887.0 L1253.4 884.2 L1253.8 881.3 L1254.3 878.3 L1254.9 875.3 L1255.4 872.2 L1255.9 869.1 L1256.5 866.0 L1257.0 862.9 L1257.5 859.9 L1258.0 856.9Z" fill="#fba916"/>
<path d="M1337.6 962.4 L1342.2 960.8 L1346.7 959.2 L1351.2 957.6 L1355.7 956.1 L1360.1 954.6 L1364.6 953.1 L1369.0 951.6 L1373.5 950.0 L1377.9 948.3 L1382.4 946.5 L1386.8 944.7 L1391.3 942.7 L1395.8 940.6 L1400.4 938.2 L1405.1 935.8 L1409.8 933.2 L1414.6 930.6 L1419.4 927.9 L1424.1 925.2 L1428.9 922.5 L1433.6 919.8 L1438.2 917.1 L1442.7 914.6 L1447.2 912.2 L1451.5 909.9 L1455.6 907.7 L1459.7 905.5 L1463.7 903.4 L1467.6 901.3 L1471.5 899.3 L1463.8 893.6 L1497.5 892.6 L1477.2 919.5 L1477.0 909.9 L1473.1 911.9 L1469.1 913.9 L1465.1 916.0 L1461.1 918.1 L1456.9 920.2 L1452.6 922.4 L1448.3 924.7 L1443.8 927.2 L1439.2 929.7 L1434.5 932.3 L1429.7 935.0 L1424.8 937.7 L1420.0 940.3 L1415.1 943.0 L1410.2 945.5 L1405.3 948.0 L1400.5 950.3 L1395.7 952.5 L1391.0 954.5 L1386.3 956.4 L1381.7 958.2 L1377.1 959.8 L1372.5 961.4 L1367.9 962.9 L1363.4 964.4 L1358.9 965.9 L1354.4 967.3 L1349.9 968.8 L1345.5 970.3 L1341.0 971.8Z" fill="#1b921b"/>
<path d="M1342.4 1005.8 L1346.1 1006.5 L1349.7 1007.2 L1353.4 1007.9 L1357.0 1008.6 L1360.7 1009.3 L1364.3 1010.0 L1367.9 1010.7 L1371.5 1011.3 L1375.1 1012.0 L1378.7 1012.5 L1382.3 1013.1 L1385.8 1013.6 L1389.4 1014.0 L1392.9 1014.5 L1396.4 1014.9 L1399.9 1015.2 L1403.4 1015.5 L1406.9 1015.9 L1410.5 1016.1 L1414.0 1016.4 L1417.6 1016.7 L1421.2 1016.9 L1424.8 1017.1 L1428.5 1017.3 L1432.1 1017.5 L1435.8 1017.7 L1439.6 1017.9 L1443.3 1018.0 L1447.1 1018.1 L1442.5 1009.2 L1473.7 1025.7 L1441.2 1039.5 L1446.6 1031.1 L1442.7 1030.8 L1438.9 1030.6 L1435.1 1030.3 L1431.3 1030.0 L1427.5 1029.7 L1423.8 1029.3 L1420.2 1029.0 L1416.6 1028.6 L1413.0 1028.2 L1409.4 1027.8 L1405.8 1027.4 L1402.2 1027.0 L1398.6 1026.5 L1395.0 1026.1 L1391.4 1025.5 L1387.8 1025.0 L1384.2 1024.4 L1380.5 1023.8 L1376.8 1023.1 L1373.2 1022.4 L1369.5 1021.6 L1365.9 1020.8 L1362.2 1020.0 L1358.6 1019.2 L1355.0 1018.4 L1351.4 1017.5 L1347.8 1016.7 L1344.2 1015.9 L1340.6 1015.2Z" fill="#d92b2b"/>
<path d="M1625.9 880.9 L1628.4 882.1 L1630.9 883.3 L1633.4 884.5 L1635.9 885.7 L1638.4 886.9 L1640.9 888.1 L1643.4 889.2 L1645.8 890.4 L1648.3 891.5 L1650.8 892.6 L1653.2 893.7 L1655.7 894.8 L1658.2 895.8 L1660.7 896.9 L1663.2 898.0 L1665.7 899.0 L1668.1 900.1 L1670.6 901.1 L1673.1 902.1 L1675.5 903.0 L1677.9 903.9 L1680.3 904.7 L1682.8 905.5 L1685.1 906.2 L1687.5 906.8 L1689.9 907.3 L1692.3 907.8 L1690.0 899.1 L1714.3 915.1 L1686.9 924.8 L1690.9 916.8 L1688.2 916.4 L1685.5 916.0 L1682.9 915.4 L1680.2 914.8 L1677.5 914.1 L1674.9 913.3 L1672.2 912.5 L1669.6 911.7 L1667.0 910.8 L1664.4 909.9 L1661.8 909.0 L1659.2 908.0 L1656.6 907.1 L1654.1 906.2 L1651.5 905.2 L1648.9 904.3 L1646.3 903.3 L1643.7 902.3 L1641.1 901.2 L1638.6 900.2 L1636.0 899.1 L1633.4 898.1 L1630.9 897.0 L1628.3 896.0 L1625.8 894.9 L1623.2 893.9 L1620.7 892.9Z" fill="#fba916"/>
</g>
<g filter="url(#ds)">
<g fill="#79b6f2">
<ellipse cx="1045.0" cy="258.0" rx="63.0" ry="59.0"/>
<ellipse cx="1216.0" cy="364.0" rx="65.0" ry="62.0"/>
<ellipse cx="1061.0" cy="500.0" rx="76.0" ry="63.0"/>
<ellipse cx="876.0" cy="592.0" rx="90.0" ry="58.0"/>
<ellipse cx="1096.0" cy="692.0" rx="77.0" ry="58.0"/>
<ellipse cx="1039.0" cy="863.0" rx="71.0" ry="47.0"/>
<ellipse cx="1081.5" cy="1055.5" rx="77.0" ry="55.5"/>
<ellipse cx="852.0" cy="1050.0" rx="77.0" ry="55.5"/>
<ellipse cx="828.0" cy="413.0" rx="75.0" ry="61.0"/>
<ellipse cx="463.0" cy="422.0" rx="77.0" ry="42.0"/>
<ellipse cx="705.0" cy="727.0" rx="101.0" ry="60.0"/>
<ellipse cx="458.0" cy="794.5" rx="85.5" ry="44.7"/>
<ellipse cx="805.0" cy="860.5" rx="85.0" ry="44.5"/>
<ellipse cx="1257.0" cy="600.0" rx="85.5" ry="48.5"/>
<ellipse cx="1530.0" cy="608.5" rx="116.0" ry="60.5"/>
<ellipse cx="1263.0" cy="988.0" rx="83.0" ry="45.0"/>
</g><g fill="#16c095">
<rect x="470.0" y="96.0" width="171.0" height="84.0"/>
<rect x="207.0" y="155.0" width="130.0" height="43.0"/>
<rect x="207.0" y="198.0" width="130.0" height="59.0"/>
<rect x="437.0" y="218.0" width="144.0" height="82.0"/>
<rect x="687.5" y="202.5" width="121.5" height="83.0"/>
<rect x="190.0" y="335.0" width="110.0" height="83.0"/>
<rect x="603.5" y="416.5" width="95.0" height="83.0"/>
<rect x="142.0" y="569.0" width="129.0" height="69.0"/>
<rect x="142.0" y="638.0" width="129.0" height="32.0"/>
<rect x="373.0" y="601.0" width="109.0" height="59.0"/>
<rect x="339.0" y="915.0" width="128.0" height="83.0"/>
<rect x="558.0" y="945.0" width="127.0" height="45.0"/>
<rect x="558.0" y="990.0" width="127.0" height="45.0"/>
<rect x="1311.0" y="420.0" width="130.0" height="82.0"/>
<rect x="1550.0" y="407.0" width="126.0" height="35.0"/>
<rect x="1550.0" y="442.0" width="126.0" height="36.0"/>
<rect x="1825.0" y="458.0" width="233.0" height="45.0"/>
<rect x="1825.0" y="503.0" width="233.0" height="44.0"/>
<rect x="1694.0" y="647.0" width="201.0" height="45.0"/>
<rect x="1694.0" y="692.0" width="201.0" height="45.0"/>
<rect x="1204.0" y="775.0" width="152.0" height="82.0"/>
<rect x="1498.0" y="800.0" width="123.0" height="45.0"/>
<rect x="1498.0" y="845.0" width="123.0" height="70.0"/>
<rect x="1715.0" y="884.0" width="109.0" height="66.0"/>
<rect x="1472.0" y="977.0" width="171.0" height="83.0"/>
</g>
<ellipse cx="1467" cy="198" rx="81.5" ry="71.5" fill="#d9aa28"/><ellipse cx="1467" cy="198" rx="76" ry="66" fill="#cfa01e"/>
</g>
<ellipse cx="97" cy="1141.5" rx="63.5" ry="47.5" fill="#d6ab2c"/><ellipse cx="97" cy="1141.5" rx="58" ry="42.5" fill="#cfa024"/>
<g filter="url(#ds)"><path d="M1298.2 323.9 L1310.4 339.0 L1279.0 339.6 L1297.9 314.5 L1303.1 333.2Z" fill="#fba916"/><path d="M1129.7 286.6 L1123.4 306.1 L1104.6 279.0 L1137.5 281.1 L1124.1 296.6Z" fill="#d92b2b"/><path d="M1116.8 424.0 L1132.2 436.6 L1101.0 444.5 L1114.1 415.1 L1123.9 432.4Z" fill="#1b921b"/><path d="M950.6 530.8 L963.4 545.7 L932.0 546.0 L951.1 521.0 L955.3 540.2Z" fill="#1b921b"/><path d="M1056.5 613.3 L1075.3 602.1 L1069.0 636.0 L1046.6 609.8 L1068.4 609.7Z" fill="#d92b2b"/><path d="M1205.2 654.5 L1191.5 639.9 L1223.5 637.0 L1206.0 664.0 L1199.6 645.0Z" fill="#1b921b"/><path d="M1043.5 788.4 L1064.5 790.9 L1040.5 814.5 L1037.1 781.0 L1054.9 792.3Z" fill="#d92b2b"/><path d="M1180.3 857.3 L1172.7 839.0 L1204.0 846.5 L1178.7 866.4 L1177.9 846.6Z" fill="#1b921b"/><path d="M1039.1 978.3 L1057.2 965.3 L1054.5 1000.5 L1029.0 976.2 L1051.5 974.7Z" fill="#d92b2b"/><path d="M952.3 1031.4 L956.1 1049.0 L930.3 1035.5 L956.6 1023.1 L952.1 1040.5Z" fill="#fba916"/><path d="M872.2 492.7 L854.0 503.3 L859.0 470.0 L881.9 494.8 L860.9 496.7Z" fill="#1b921b"/><path d="M767.3 650.8 L782.9 664.7 L750.0 672.0 L764.9 641.7 L774.7 660.2Z" fill="#d92b2b"/><path d="M801.7 306.3 L786.1 320.7 L784.5 287.0 L811.8 306.8 L791.1 311.9Z" fill="#d92b2b"/><path d="M719.9 418.3 L729.9 435.1 L698.8 430.5 L721.6 408.9 L723.0 428.4Z" fill="#1b921b"/><path d="M666.1 175.4 L659.4 193.1 L642.5 167.5 L673.0 169.8 L660.9 184.3Z" fill="#fba916"/><path d="M566.4 418.8 L567.4 437.1 L542.5 420.6 L570.7 410.9 L564.7 428.3Z" fill="#fba916"/><path d="M511.1 333.4 L485.6 334.6 L509.3 302.5 L518.5 341.3 L495.5 330.0Z" fill="#d92b2b"/><path d="M326.6 372.5 L328.1 392.4 L301.3 374.6 L331.9 364.6 L325.0 383.4Z" fill="#1b921b"/><path d="M362.9 205.7 L362.5 224.0 L338.8 205.8 L367.7 198.1 L361.1 215.2Z" fill="#fba916"/><path d="M543.5 749.4 L552.4 767.0 L520.4 763.2 L543.2 740.5 L547.0 759.8Z" fill="#1b921b"/><path d="M739.0 804.9 L753.0 788.9 L758.2 822.2 L728.9 805.4 L748.8 798.0Z" fill="#d92b2b"/><path d="M459.5 684.0 L441.5 695.1 L445.5 661.6 L469.2 685.6 L448.0 687.4Z" fill="#1b921b"/><path d="M403.4 888.0 L422.7 887.0 L405.2 913.0 L395.5 883.1 L413.7 890.1Z" fill="#d92b2b"/><path d="M298.1 605.1 L299.9 624.9 L272.3 608.4 L302.4 596.9 L297.5 616.1Z" fill="#fba916"/><path d="M686.9 924.6 L702.9 936.3 L672.2 942.7 L686.1 914.5 L693.3 932.9Z" fill="#1b921b"/><path d="M808.7 971.8 L828.5 959.4 L823.8 995.9 L798.6 969.0 L822.1 967.9Z" fill="#d92b2b"/><path d="M1347.8 529.6 L1328.1 521.9 L1357.5 505.4 L1352.0 538.7 L1338.0 522.7Z" fill="#d92b2b"/><path d="M1390.3 625.3 L1389.3 605.6 L1416.7 622.5 L1386.5 633.5 L1391.4 614.4Z" fill="#1b921b"/><path d="M1600.7 509.8 L1581.0 506.4 L1605.0 485.0 L1606.9 517.1 L1590.6 505.6Z" fill="#1b921b"/><path d="M1663.9 678.1 L1666.0 656.3 L1693.0 679.0 L1658.4 685.7 L1667.3 665.7Z" fill="#d92b2b"/><path d="M1890.8 573.6 L1872.1 569.1 L1897.5 552.0 L1895.5 582.6 L1882.2 568.6Z" fill="#fba916"/><path d="M1249.4 920.3 L1266.7 916.8 L1254.8 943.3 L1240.9 917.8 L1258.4 920.3Z" fill="#fba916"/><path d="M1477.0 909.9 L1463.8 893.6 L1497.5 892.6 L1477.2 919.5 L1471.5 899.3Z" fill="#1b921b"/><path d="M1446.6 1031.1 L1442.5 1009.2 L1473.7 1025.7 L1441.2 1039.5 L1447.1 1018.1Z" fill="#d92b2b"/><path d="M1690.9 916.8 L1690.0 899.1 L1714.3 915.1 L1686.9 924.8 L1692.3 907.8Z" fill="#fba916"/></g>
<g filter="url(#is)">
<g fill="#b4d8ff">
<ellipse cx="1045.0" cy="258.0" rx="52.0" ry="49.0"/>
<ellipse cx="1216.0" cy="364.0" rx="54.0" ry="52.0"/>
<ellipse cx="1061.0" cy="500.0" rx="65.0" ry="53.0"/>
<ellipse cx="876.0" cy="592.0" rx="79.0" ry="48.0"/>
<ellipse cx="1096.0" cy="692.0" rx="66.0" ry="48.0"/>
<ellipse cx="1039.0" cy="863.0" rx="60.0" ry="37.0"/>
<ellipse cx="1081.5" cy="1055.5" rx="66.0" ry="45.5"/>
<ellipse cx="852.0" cy="1050.0" rx="66.0" ry="45.5"/>
<ellipse cx="828.0" cy="413.0" rx="64.0" ry="51.0"/>
<ellipse cx="463.0" cy="422.0" rx="66.0" ry="32.0"/>
<ellipse cx="705.0" cy="727.0" rx="90.0" ry="50.0"/>
<ellipse cx="458.0" cy="794.5" rx="74.5" ry="34.7"/>
<ellipse cx="805.0" cy="860.5" rx="74.0" ry="34.5"/>
<ellipse cx="1257.0" cy="600.0" rx="74.5" ry="38.5"/>
<ellipse cx="1530.0" cy="608.5" rx="105.0" ry="50.5"/>
<ellipse cx="1263.0" cy="988.0" rx="72.0" ry="35.0"/>
</g><g fill="#77d8c1">
<rect x="480.0" y="105.5" width="151.0" height="65.0"/>
<rect x="213.5" y="161.0" width="117.0" height="31.0"/>
<rect x="214.5" y="205.0" width="115.0" height="45.0"/>
<rect x="447.0" y="227.5" width="124.0" height="63.0"/>
<rect x="697.5" y="212.0" width="101.5" height="64.0"/>
<rect x="200.0" y="344.5" width="90.0" height="64.0"/>
<rect x="613.5" y="426.0" width="75.0" height="64.0"/>
<rect x="151.0" y="577.5" width="111.0" height="52.0"/>
<rect x="148.0" y="643.5" width="117.0" height="21.0"/>
<rect x="383.0" y="610.5" width="89.0" height="40.0"/>
<rect x="349.0" y="924.5" width="108.0" height="64.0"/>
<rect x="565.5" y="952.0" width="112.0" height="31.0"/>
<rect x="566.0" y="997.5" width="111.0" height="30.0"/>
<rect x="1321.0" y="429.5" width="110.0" height="63.0"/>
<rect x="1556.0" y="412.5" width="114.0" height="24.0"/>
<rect x="1556.0" y="447.5" width="114.0" height="25.0"/>
<rect x="1832.0" y="464.5" width="219.0" height="32.0"/>
<rect x="1832.0" y="509.5" width="219.0" height="31.0"/>
<rect x="1701.0" y="653.5" width="187.0" height="32.0"/>
<rect x="1701.0" y="698.5" width="187.0" height="32.0"/>
<rect x="1214.0" y="784.5" width="132.0" height="63.0"/>
<rect x="1504.5" y="806.0" width="110.0" height="33.0"/>
<rect x="1505.5" y="852.0" width="108.0" height="56.0"/>
<rect x="1725.0" y="893.5" width="89.0" height="47.0"/>
<rect x="1482.0" y="986.5" width="151.0" height="64.0"/>
</g>
<ellipse cx="1467" cy="198" rx="69" ry="59.5" fill="#ffa70f"/>
<ellipse cx="97" cy="1141.5" rx="53.5" ry="38" fill="#fca534"/>
</g>
<g fill="#000" stroke="#000" stroke-width="0.45">
<text x="189.0" y="122.0" font-size="49.8" text-anchor="start" textLength="257.0" lengthAdjust="spacingAndGlyphs">classification</text>
<text x="1406.0" y="373.0" font-size="44.2" text-anchor="start" textLength="183.9" lengthAdjust="spacingAndGlyphs">regression</text>
<text x="151.0" y="774.0" font-size="44.2" text-anchor="start" textLength="174.9" lengthAdjust="spacingAndGlyphs">clustering</text>
<text x="1804.0" y="1009.5" font-size="44.2" text-anchor="middle" textLength="263.8" lengthAdjust="spacingAndGlyphs">dimensionality</text>
<text x="1803.5" y="1057.0" font-size="44.2" text-anchor="middle" textLength="170.9" lengthAdjust="spacingAndGlyphs">reduction</text>
<text x="1601.0" y="119.0" font-size="55.3" text-anchor="start" textLength="246.8" lengthAdjust="spacingAndGlyphs">scikit-learn</text>
<text x="1601.0" y="177.0" font-size="55.3" text-anchor="start" textLength="477.8" lengthAdjust="spacingAndGlyphs">algorithm cheat-sheet</text>
<text x="1466.0" y="209.0" font-size="40.1" text-anchor="middle" textLength="112.4" lengthAdjust="spacingAndGlyphs">START</text>
<text x="555.0" y="131.0" font-size="22.3" text-anchor="middle" textLength="56.7" lengthAdjust="spacingAndGlyphs">kernel</text>
<text x="555.0" y="155.0" font-size="22.3" text-anchor="middle" textLength="132.3" lengthAdjust="spacingAndGlyphs">approximation</text>
<text x="272.0" y="184.0" font-size="20.0" text-anchor="middle" textLength="33.2" lengthAdjust="spacingAndGlyphs">SVC</text>
<text x="272.0" y="226.0" font-size="22.0" text-anchor="middle" textLength="86.3" lengthAdjust="spacingAndGlyphs">Ensemble</text>
<text x="272.0" y="245.0" font-size="22.1" text-anchor="middle" textLength="89.5" lengthAdjust="spacingAndGlyphs">Classifiers</text>
<text x="509.0" y="254.0" font-size="21.8" text-anchor="middle" textLength="103.9" lengthAdjust="spacingAndGlyphs">KNeighbors</text>
<text x="509.0" y="277.0" font-size="22.0" text-anchor="middle" textLength="81.1" lengthAdjust="spacingAndGlyphs">Classifier</text>
<text x="748.0" y="239.0" font-size="20.0" text-anchor="middle" textLength="36.8" lengthAdjust="spacingAndGlyphs">SGD</text>
<text x="748.0" y="262.0" font-size="22.0" text-anchor="middle" textLength="81.1" lengthAdjust="spacingAndGlyphs">Classifier</text>
<text x="245.0" y="371.0" font-size="21.8" text-anchor="middle" textLength="51.2" lengthAdjust="spacingAndGlyphs">Naive</text>
<text x="245.0" y="395.0" font-size="21.8" text-anchor="middle" textLength="50.9" lengthAdjust="spacingAndGlyphs">Bayes</text>
<text x="462.0" y="417.0" font-size="21.7" text-anchor="middle" textLength="37.6" lengthAdjust="spacingAndGlyphs">Text</text>
<text x="462.0" y="441.0" font-size="21.7" text-anchor="middle" textLength="40.9" lengthAdjust="spacingAndGlyphs">Data</text>
<text x="651.0" y="451.0" font-size="21.9" text-anchor="middle" textLength="58.5" lengthAdjust="spacingAndGlyphs">Linear</text>
<text x="651.0" y="475.0" font-size="20.0" text-anchor="middle" textLength="33.2" lengthAdjust="spacingAndGlyphs">SVC</text>
<text x="206.0" y="597.0" font-size="22.0" text-anchor="middle" textLength="71.6" lengthAdjust="spacingAndGlyphs">Spectral</text>
<text x="206.0" y="621.0" font-size="22.0" text-anchor="middle" textLength="90.3" lengthAdjust="spacingAndGlyphs">Clustering</text>
<text x="205.0" y="662.0" font-size="20.0" text-anchor="middle" textLength="48.0" lengthAdjust="spacingAndGlyphs">GMM</text>
<text x="427.0" y="636.0" font-size="21.5" text-anchor="middle" textLength="71.0" lengthAdjust="spacingAndGlyphs">KMeans</text>
<text x="1376.0" y="456.0" font-size="20.0" text-anchor="middle" textLength="36.8" lengthAdjust="spacingAndGlyphs">SGD</text>
<text x="1376.0" y="479.0" font-size="22.0" text-anchor="middle" textLength="86.8" lengthAdjust="spacingAndGlyphs">Regressor</text>
<text x="1614.5" y="432.0" font-size="21.8" text-anchor="middle" textLength="49.4" lengthAdjust="spacingAndGlyphs">Lasso</text>
<text x="1616.5" y="468.0" font-size="21.8" text-anchor="middle" textLength="88.2" lengthAdjust="spacingAndGlyphs">ElasticNet</text>
<text x="1940.0" y="487.0" font-size="21.7" text-anchor="middle" textLength="150.9" lengthAdjust="spacingAndGlyphs">SVR(kernel='rbf')</text>
<text x="1942.5" y="534.0" font-size="22.0" text-anchor="middle" textLength="181.5" lengthAdjust="spacingAndGlyphs">EnsembleRegressors</text>
<text x="1531.5" y="593.5" font-size="22.3" text-anchor="middle" textLength="110.0" lengthAdjust="spacingAndGlyphs">few features</text>
<text x="1531.5" y="617.5" font-size="22.3" text-anchor="middle" textLength="85.8" lengthAdjust="spacingAndGlyphs">should be</text>
<text x="1531.5" y="641.0" font-size="22.3" text-anchor="middle" textLength="89.7" lengthAdjust="spacingAndGlyphs">important</text>
<text x="705.0" y="710.0" font-size="22.3" text-anchor="middle" textLength="93.6" lengthAdjust="spacingAndGlyphs">number of</text>
<text x="705.0" y="733.0" font-size="22.3" text-anchor="middle" textLength="89.6" lengthAdjust="spacingAndGlyphs">categories</text>
<text x="705.0" y="756.5" font-size="22.3" text-anchor="middle" textLength="61.4" lengthAdjust="spacingAndGlyphs">known</text>
<text x="403.5" y="951.0" font-size="21.8" text-anchor="middle" textLength="91.2" lengthAdjust="spacingAndGlyphs">MiniBatch</text>
<text x="403.5" y="974.0" font-size="21.5" text-anchor="middle" textLength="71.0" lengthAdjust="spacingAndGlyphs">KMeans</text>
<text x="624.5" y="974.0" font-size="21.8" text-anchor="middle" textLength="90.8" lengthAdjust="spacingAndGlyphs">MeanShift</text>
<text x="623.0" y="1020.5" font-size="20.0" text-anchor="middle" textLength="72.6" lengthAdjust="spacingAndGlyphs">VBGMM</text>
<text x="1789.0" y="675.0" font-size="22.0" text-anchor="middle" textLength="145.3" lengthAdjust="spacingAndGlyphs">RidgeRegression</text>
<text x="1795.0" y="720.0" font-size="21.8" text-anchor="middle" textLength="175.1" lengthAdjust="spacingAndGlyphs">SVR(kernel='linear')</text>
<text x="1280.5" y="810.0" font-size="22.0" text-anchor="middle" textLength="110.8" lengthAdjust="spacingAndGlyphs">Randomized</text>
<text x="1280.5" y="833.0" font-size="20.0" text-anchor="middle" textLength="35.6" lengthAdjust="spacingAndGlyphs">PCA</text>
<text x="1559.5" y="829.0" font-size="21.9" text-anchor="middle" textLength="65.2" lengthAdjust="spacingAndGlyphs">Isomap</text>
<text x="1560.0" y="876.0" font-size="22.0" text-anchor="middle" textLength="71.6" lengthAdjust="spacingAndGlyphs">Spectral</text>
<text x="1561.0" y="899.0" font-size="22.0" text-anchor="middle" textLength="101.0" lengthAdjust="spacingAndGlyphs">Embedding</text>
<text x="1769.5" y="923.5" font-size="20.0" text-anchor="middle" textLength="34.6" lengthAdjust="spacingAndGlyphs">LLE</text>
<text x="1558.0" y="1013.0" font-size="22.3" text-anchor="middle" textLength="56.7" lengthAdjust="spacingAndGlyphs">kernel</text>
<text x="1558.0" y="1037.0" font-size="22.3" text-anchor="middle" textLength="132.3" lengthAdjust="spacingAndGlyphs">approximation</text>
<text x="1045.0" y="262.0" font-size="30.8" text-anchor="middle" textLength="65.0" lengthAdjust="spacingAndGlyphs">more</text>
<text x="1045.0" y="294.0" font-size="30.8" text-anchor="middle" textLength="53.8" lengthAdjust="spacingAndGlyphs">data</text>
<text x="1216.0" y="364.0" font-size="28.3" text-anchor="middle" textLength="43.1" lengthAdjust="spacingAndGlyphs">&gt;50</text>
<text x="1062.0" y="508.0" font-size="30.8" text-anchor="middle" textLength="105.1" lengthAdjust="spacingAndGlyphs">category</text>
<text x="875.0" y="595.0" font-size="30.8" text-anchor="middle" textLength="89.4" lengthAdjust="spacingAndGlyphs">labeled</text>
<text x="875.0" y="627.0" font-size="30.8" text-anchor="middle" textLength="53.8" lengthAdjust="spacingAndGlyphs">data</text>
<text x="1096.0" y="706.0" font-size="30.8" text-anchor="middle" textLength="103.9" lengthAdjust="spacingAndGlyphs">quantity</text>
<text x="1040.0" y="878.0" font-size="30.8" text-anchor="middle" textLength="91.2" lengthAdjust="spacingAndGlyphs">looking</text>
<text x="1083.0" y="1070.0" font-size="30.8" text-anchor="middle" textLength="112.9" lengthAdjust="spacingAndGlyphs">structure</text>
<text x="855.0" y="1045.0" font-size="30.8" text-anchor="middle" textLength="70.3" lengthAdjust="spacingAndGlyphs">tough</text>
<text x="855.0" y="1077.0" font-size="30.8" text-anchor="middle" textLength="52.0" lengthAdjust="spacingAndGlyphs">luck</text>
<text x="829.0" y="417.0" font-size="28.3" text-anchor="middle" textLength="75.4" lengthAdjust="spacingAndGlyphs">&lt;100K</text>
<text x="1255.0" y="603.0" font-size="28.3" text-anchor="middle" textLength="75.4" lengthAdjust="spacingAndGlyphs">&lt;100K</text>
<text x="453.0" y="796.0" font-size="28.3" text-anchor="middle" textLength="61.1" lengthAdjust="spacingAndGlyphs">&lt;10K</text>
<text x="804.0" y="865.0" font-size="28.3" text-anchor="middle" textLength="61.1" lengthAdjust="spacingAndGlyphs">&lt;10K</text>
<text x="1263.0" y="989.0" font-size="28.3" text-anchor="middle" textLength="61.1" lengthAdjust="spacingAndGlyphs">&lt;10K</text>
<text x="1044.0" y="233.0" font-size="15.5" text-anchor="middle" textLength="18.4" lengthAdjust="spacingAndGlyphs">get</text>
<text x="1215.0" y="383.0" font-size="15.5" text-anchor="middle" textLength="49.9" lengthAdjust="spacingAndGlyphs">samples</text>
<text x="1062.0" y="480.0" font-size="15.5" text-anchor="middle" textLength="73.8" lengthAdjust="spacingAndGlyphs">predicting a</text>
<text x="875.0" y="566.0" font-size="15.5" text-anchor="middle" textLength="74.8" lengthAdjust="spacingAndGlyphs">do you have</text>
<text x="1096.0" y="678.0" font-size="15.5" text-anchor="middle" textLength="73.8" lengthAdjust="spacingAndGlyphs">predicting a</text>
<text x="1040.0" y="849.0" font-size="15.5" text-anchor="middle" textLength="22.4" lengthAdjust="spacingAndGlyphs">just</text>
<text x="1083.0" y="1042.0" font-size="15.5" text-anchor="middle" textLength="63.2" lengthAdjust="spacingAndGlyphs">predicting</text>
<text x="828.0" y="436.0" font-size="15.5" text-anchor="middle" textLength="49.9" lengthAdjust="spacingAndGlyphs">samples</text>
<text x="1255.0" y="622.5" font-size="15.5" text-anchor="middle" textLength="49.9" lengthAdjust="spacingAndGlyphs">samples</text>
<text x="452.0" y="816.0" font-size="15.5" text-anchor="middle" textLength="49.9" lengthAdjust="spacingAndGlyphs">samples</text>
<text x="803.0" y="884.0" font-size="15.5" text-anchor="middle" textLength="49.9" lengthAdjust="spacingAndGlyphs">samples</text>
<text x="1262.0" y="1009.5" font-size="15.5" text-anchor="middle" textLength="49.9" lengthAdjust="spacingAndGlyphs">samples</text>
</g>
<text class="s" x="1126" y="388" font-size="13.6" text-anchor="middle" fill="#1a8c1a" textLength="23.0" lengthAdjust="spacingAndGlyphs">YES</text>
<text class="s" x="961" y="512" font-size="13.6" text-anchor="middle" fill="#1a8c1a" textLength="23.0" lengthAdjust="spacingAndGlyphs">YES</text>
<text class="s" x="1155" y="644" font-size="13.6" text-anchor="middle" fill="#1a8c1a" textLength="23.0" lengthAdjust="spacingAndGlyphs">YES</text>
<text class="s" x="1150" y="887" font-size="13.6" text-anchor="middle" fill="#1a8c1a" textLength="23.0" lengthAdjust="spacingAndGlyphs">YES</text>
<text class="s" x="845" y="530" font-size="13.6" text-anchor="middle" fill="#1a8c1a" textLength="23.0" lengthAdjust="spacingAndGlyphs">YES</text>
<text class="s" x="736" y="403" font-size="13.6" text-anchor="middle" fill="#1a8c1a" textLength="23.0" lengthAdjust="spacingAndGlyphs">YES</text>
<text class="s" x="390" y="375" font-size="13.6" text-anchor="middle" fill="#1a8c1a" textLength="23.0" lengthAdjust="spacingAndGlyphs">YES</text>
<text class="s" x="575" y="724" font-size="13.6" text-anchor="middle" fill="#1a8c1a" textLength="23.0" lengthAdjust="spacingAndGlyphs">YES</text>
<text class="s" x="486" y="737" font-size="13.6" text-anchor="middle" fill="#1a8c1a" textLength="23.0" lengthAdjust="spacingAndGlyphs">YES</text>
<text class="s" x="699" y="892" font-size="13.6" text-anchor="middle" fill="#1a8c1a" textLength="23.0" lengthAdjust="spacingAndGlyphs">YES</text>
<text class="s" x="1363" y="606" font-size="13.6" text-anchor="middle" fill="#1a8c1a" textLength="23.0" lengthAdjust="spacingAndGlyphs">YES</text>
<text class="s" x="1614" y="539" font-size="13.6" text-anchor="middle" fill="#1a8c1a" textLength="23.0" lengthAdjust="spacingAndGlyphs">YES</text>
<text class="s" x="1339" y="951" font-size="13.6" text-anchor="middle" fill="#1a8c1a" textLength="23.0" lengthAdjust="spacingAndGlyphs">YES</text>
<text class="s" x="1173" y="297" font-size="13.6" text-anchor="middle" fill="#d62728" textLength="21.2" lengthAdjust="spacingAndGlyphs">NO</text>
<text class="s" x="1033" y="587" font-size="13.6" text-anchor="middle" fill="#d62728" textLength="21.2" lengthAdjust="spacingAndGlyphs">NO</text>
<text class="s" x="1032" y="755" font-size="13.6" text-anchor="middle" fill="#d62728" textLength="21.2" lengthAdjust="spacingAndGlyphs">NO</text>
<text class="s" x="1013" y="931" font-size="13.6" text-anchor="middle" fill="#d62728" textLength="21.2" lengthAdjust="spacingAndGlyphs">NO</text>
<text class="s" x="776" y="626" font-size="13.6" text-anchor="middle" fill="#d62728" textLength="21.2" lengthAdjust="spacingAndGlyphs">NO</text>
<text class="s" x="838" y="337" font-size="13.6" text-anchor="middle" fill="#d62728" textLength="21.2" lengthAdjust="spacingAndGlyphs">NO</text>
<text class="s" x="517" y="378" font-size="13.6" text-anchor="middle" fill="#d62728" textLength="21.2" lengthAdjust="spacingAndGlyphs">NO</text>
<text class="s" x="707" y="808" font-size="13.6" text-anchor="middle" fill="#d62728" textLength="21.2" lengthAdjust="spacingAndGlyphs">NO</text>
<text class="s" x="395" y="853" font-size="13.6" text-anchor="middle" fill="#d62728" textLength="21.2" lengthAdjust="spacingAndGlyphs">NO</text>
<text class="s" x="782" y="927" font-size="13.6" text-anchor="middle" fill="#d62728" textLength="21.2" lengthAdjust="spacingAndGlyphs">NO</text>
<text class="s" x="1305" y="550" font-size="13.6" text-anchor="middle" fill="#d62728" textLength="21.2" lengthAdjust="spacingAndGlyphs">NO</text>
<text class="s" x="1618" y="682" font-size="13.6" text-anchor="middle" fill="#d62728" textLength="21.2" lengthAdjust="spacingAndGlyphs">NO</text>
<text class="s" x="1370" y="1004" font-size="13.6" text-anchor="middle" fill="#d62728" textLength="21.2" lengthAdjust="spacingAndGlyphs">NO</text>
<text class="s" x="724" y="163" font-size="13.6" text-anchor="middle" fill="#a0622f" textLength="28.6" lengthAdjust="spacingAndGlyphs">NOT</text>
<text class="s" x="724" y="180" font-size="13.6" text-anchor="middle" fill="#a0622f" textLength="66.0" lengthAdjust="spacingAndGlyphs">WORKING</text>
<text class="s" x="587" y="388" font-size="13.6" text-anchor="middle" fill="#a0622f" textLength="28.6" lengthAdjust="spacingAndGlyphs">NOT</text>
<text class="s" x="587" y="405" font-size="13.6" text-anchor="middle" fill="#a0622f" textLength="66.0" lengthAdjust="spacingAndGlyphs">WORKING</text>
<text class="s" x="387" y="244" font-size="13.6" text-anchor="middle" fill="#a0622f" textLength="28.6" lengthAdjust="spacingAndGlyphs">NOT</text>
<text class="s" x="387" y="261" font-size="13.6" text-anchor="middle" fill="#a0622f" textLength="66.0" lengthAdjust="spacingAndGlyphs">WORKING</text>
<text class="s" x="327" y="571" font-size="13.6" text-anchor="middle" fill="#a0622f" textLength="28.6" lengthAdjust="spacingAndGlyphs">NOT</text>
<text class="s" x="327" y="588" font-size="13.6" text-anchor="middle" fill="#a0622f" textLength="66.0" lengthAdjust="spacingAndGlyphs">WORKING</text>
<text class="s" x="1813" y="603" font-size="13.6" text-anchor="middle" fill="#a0622f" textLength="28.6" lengthAdjust="spacingAndGlyphs">NOT</text>
<text class="s" x="1813" y="620" font-size="13.6" text-anchor="middle" fill="#a0622f" textLength="66.0" lengthAdjust="spacingAndGlyphs">WORKING</text>
<text class="s" x="1310" y="881" font-size="13.6" text-anchor="middle" fill="#a0622f" textLength="28.6" lengthAdjust="spacingAndGlyphs">NOT</text>
<text class="s" x="1310" y="898" font-size="13.6" text-anchor="middle" fill="#a0622f" textLength="66.0" lengthAdjust="spacingAndGlyphs">WORKING</text>
<text class="s" x="1636" y="919" font-size="13.6" text-anchor="middle" fill="#a0622f" textLength="28.6" lengthAdjust="spacingAndGlyphs">NOT</text>
<text class="s" x="1636" y="936" font-size="13.6" text-anchor="middle" fill="#a0622f" textLength="66.0" lengthAdjust="spacingAndGlyphs">WORKING</text>
<text x="101" y="1151" font-size="31.5" font-style="italic" text-anchor="middle" class="sn" fill="#111" textLength="66.7" lengthAdjust="spacingAndGlyphs">Back</text>
<path d="M32 1236 C34 1208 62 1196 82 1198 C108 1201 128 1218 135 1245 C140 1265 139 1280 134 1286 C128 1293 112 1293 92 1292 C62 1290 30 1268 32 1236Z" fill="#3499cd"/>
<path d="M146 1232 C148 1190 180 1150 232 1136 C262 1128 296 1130 313 1150 C330 1170 332 1205 322 1235 C310 1270 280 1288 235 1294 C200 1298 165 1296 154 1280 C147 1268 145 1250 146 1232Z" fill="#f89939"/>
<text x="251" y="1221" font-size="25" text-anchor="middle" class="sn" fill="#fff4e0" stroke="#fff4e0" stroke-width="0.5" textLength="61" lengthAdjust="spacingAndGlyphs">scikit</text>
<g transform="translate(160,1195) scale(0.10839)" fill="none" stroke="#060606" stroke-linecap="round" stroke-linejoin="round">
<g stroke-width="30"><path d="M150 600 C260 480 365 330 400 178"/><path d="M270 655 C340 645 410 590 455 540 C520 480 560 430 528 402"/><path d="M560 640 C630 610 700 540 740 480"/><path d="M1100 625 C1180 570 1260 470 1312 388"/><path d="M1505 610 C1590 480 1700 392 1792 392"/><path d="M1850 660 C1890 640 1930 600 1950 572"/></g>
<g stroke-width="88"><path d="M392 180 C330 170 275 330 222 520 C195 620 215 655 270 650"/><path d="M522 408 C465 385 405 455 398 550 C392 640 480 670 560 635"/><path d="M955 438 C895 385 795 425 765 530 C738 640 830 670 888 605 C930 555 958 480 975 425"/><path d="M990 410 C965 485 928 590 962 642 C985 675 1055 655 1105 620"/><path d="M1312 392 C1350 432 1420 425 1412 485 C1400 560 1335 650 1400 672 C1440 682 1475 650 1498 622"/><path d="M1565 400 C1545 480 1510 600 1492 680"/><path d="M1792 398 C1848 408 1790 520 1772 600 C1758 662 1800 682 1848 658"/></g></g>
<g transform="translate(1720,1190) scale(0.17437)"><g id="wm" fill="none" stroke-width="34" stroke-linecap="butt" stroke-linejoin="miter">
<path d="M150 105 L122 185 M130 165 L240 165 M118 282 L278 282 M215 165 L215 290 M215 285 Q190 380 118 436 M222 305 L272 405 M312 150 L440 150 L440 395 L312 395 Z"/>
<path d="M515 140 Q680 132 808 106 M560 185 L595 245 M775 175 L735 240 M498 282 L828 282 M660 145 L660 395 Q655 432 585 422"/>
<path d="M1375 135 L1590 135 L1590 255 L1375 255 Z M1375 195 L1590 195 M1440 285 L1440 400 M1525 285 L1525 400 M1380 295 L1405 365 M1605 295 L1568 365 M1322 405 L1642 405"/>
<path d="M1698 150 L1968 150 M1678 260 L1988 260 M1832 150 L1832 262 Q1805 365 1682 422 M1842 272 Q1890 380 1990 418"/>
<path stroke-width="26" d="M1190 205 C1150 190 1085 215 1080 285 C1078 335 1150 335 1180 270 L1200 200 L1175 300 C1175 340 1255 330 1262 250 C1268 150 1170 110 1090 140 C1000 175 985 290 1020 360 C1060 430 1150 420 1195 395"/>
</g><use href="#wm" stroke="#aaa" x="4" y="4"/><use href="#wm" stroke="#fff" x="-18" y="-18"/></g>
</svg></body></html>
